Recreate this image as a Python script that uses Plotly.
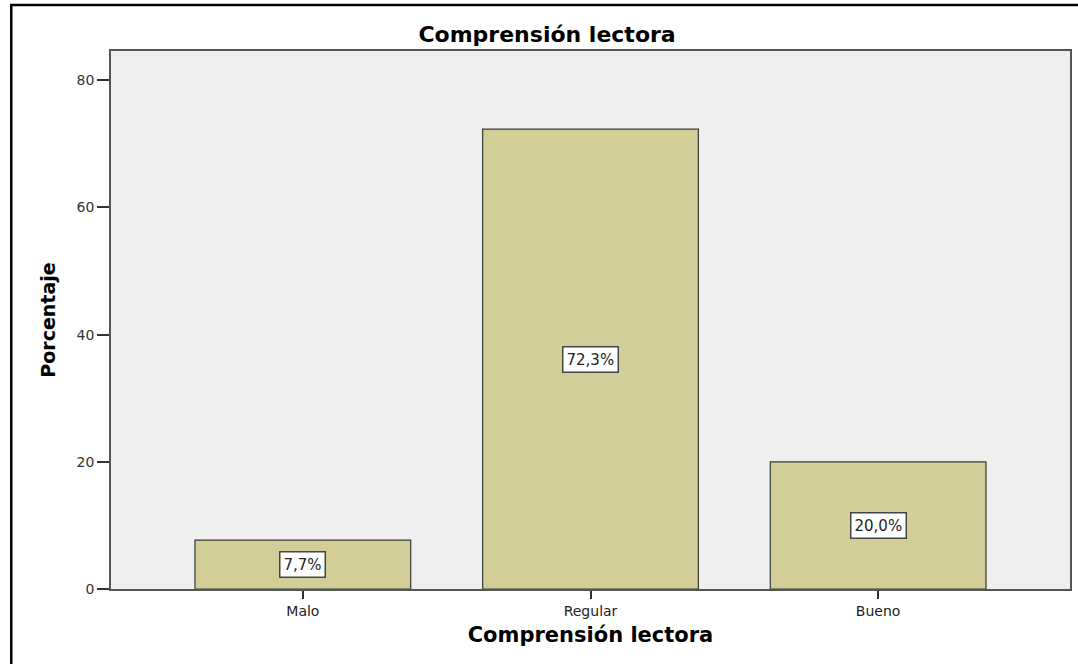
import plotly.graph_objects as go

# Data
categorias = ["Malo", "Regular", "Bueno"]
porcentajes = [7.7, 72.3, 20.0]
etiquetas = ["7,7%", "72,3%", "20,0%"]
y_ticks = [0, 20, 40, 60, 80]

FONT = "DejaVu Sans, Liberation Sans, Arial"

fig = go.Figure(go.Bar(
    x=list(range(len(categorias))),
    y=porcentajes,
    width=0.75,
    marker={"color": "#D3CE97", "line": {"color": "#3a3a3a", "width": 1.2}},
    hoverinfo="skip",
))

# value labels in white boxes, centered on each bar
for i, (v, t) in enumerate(zip(porcentajes, etiquetas)):
    fig.add_annotation(
        x=i, y=v / 2, text=t, showarrow=False,
        font={"family": FONT, "size": 15, "color": "#222"},
        bgcolor="white", bordercolor="#444", borderwidth=1.5, borderpad=3,
    )

# outer frame of the picture (cut at right and bottom like the reference)
fig.add_shape(type="rect", xref="paper", yref="paper",
              x0=-0.104, x1=1.2, y0=-0.5, y1=1.0855,
              line={"color": "black", "width": 2.5}, layer="below")

fig.update_layout(
    width=1078, height=664,
    paper_bgcolor="white",
    plot_bgcolor="#EFEFEF",
    margin={"l": 111, "r": 6, "t": 51, "b": 75},
    showlegend=False,
    title={"text": "<b>Comprensión lectora</b>", "x": 0.4547, "xref": "paper",
           "xanchor": "center", "y": 0.949, "yanchor": "middle",
           "font": {"family": FONT, "size": 22, "color": "black"}},
    font={"family": FONT, "color": "#333"},
    xaxis={
        "range": [-0.667, 2.667],
        "tickmode": "array",
        "tickvals": list(range(len(categorias))),
        "ticktext": categorias,
        "ticks": "outside", "ticklen": 8, "tickcolor": "#333", "tickwidth": 1.5,
        "tickfont": {"size": 14, "color": "#222"},
        "showgrid": False, "zeroline": False,
        "showline": True, "linecolor": "#555", "linewidth": 1.5, "mirror": True,
        "title": {"text": "<b>Comprensión lectora</b>", "standoff": 10,
                  "font": {"size": 21, "color": "black"}},
    },
    yaxis={
        "range": [0, 84.6],
        "tickmode": "array",
        "tickvals": y_ticks,
        "ticks": "outside", "ticklen": 12, "tickcolor": "#333", "tickwidth": 1.5,
        "tickfont": {"size": 14, "color": "#333"},
        "showgrid": False, "zeroline": False,
        "showline": True, "linecolor": "#555", "linewidth": 1.5, "mirror": True,
        "title": {"text": "<b>Porcentaje</b>", "standoff": 16,
                  "font": {"size": 19, "color": "black"}},
    },
)

fig.write_html("out.html", config={"displayModeBar": False},
               post_script="document.body.style.margin='0';")
